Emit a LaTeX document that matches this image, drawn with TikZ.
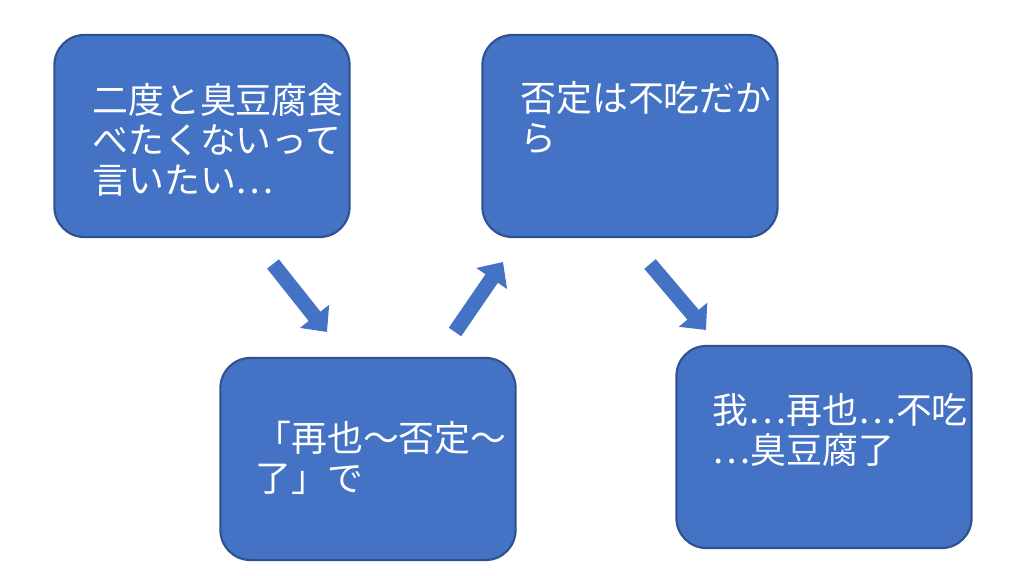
\documentclass[tikz,border=0pt]{standalone}
\usepackage{fontspec}
\setmainfont{Noto Sans CJK JP}
\usetikzlibrary{arrows.meta}
\definecolor{boxblue}{HTML}{4472C4}
\definecolor{boxedge}{HTML}{2F528F}
\tikzset{
  card/.style={draw=boxedge, line width=0.6pt, fill=boxblue, rounded corners=0.3cm,
    minimum width=2.95cm, minimum height=2.02cm, text=white, font=\fontsize{10.2pt}{11.4pt}\selectfont,
    align=left, inner sep=0pt},
  blockarrow/.style={draw=boxblue, line width=0.15cm, -{Triangle[length=0.2cm,width=0.36cm]}}
}
\begin{document}
\begin{tikzpicture}[x=0.01cm,y=-0.01cm]
  \useasboundingbox (0,0) rectangle (1024,576);
  % boxes
  \node[card] (want) at (202,136) {};
  \node[card] (deny) at (630,136) {};
  \node[card] (again) at (368,459) {};
  \node[card] (never) at (824,447) {};

  % texts
  \node[text=white, font=\fontsize{10.2pt}{11.4pt}\selectfont, align=left, anchor=west] (wantT) at (80,140) {二度と臭豆腐食\\べたくないって\\言いたい…};
  \node[text=white, font=\fontsize{10.2pt}{11.4pt}\selectfont, align=left, anchor=west] (denyT) at (508,118) {否定は不吃だか\\ら};
  \node[text=white, font=\fontsize{10.2pt}{11.4pt}\selectfont, align=left, anchor=west] (againT) at (243,458) {「再也～否定～\\了」で};
  \node[text=white, font=\fontsize{10.2pt}{11.4pt}\selectfont, align=left, anchor=west] (neverT) at (700,430) {我…再也…不吃\\…臭豆腐了};

  % arrow ends
  \coordinate (a1) at (273,264);
  \coordinate (b1) at (327,332);
  \coordinate (a2) at (455,332);
  \coordinate (b2) at (503,262);
  \coordinate (a3) at (650,264);
  \coordinate (b3) at (706,330);

  % arrows
  \draw[blockarrow] (a1) -- (b1);
  \draw[blockarrow] (a2) -- (b2);
  \draw[blockarrow] (a3) -- (b3);
\end{tikzpicture}
\end{document}
